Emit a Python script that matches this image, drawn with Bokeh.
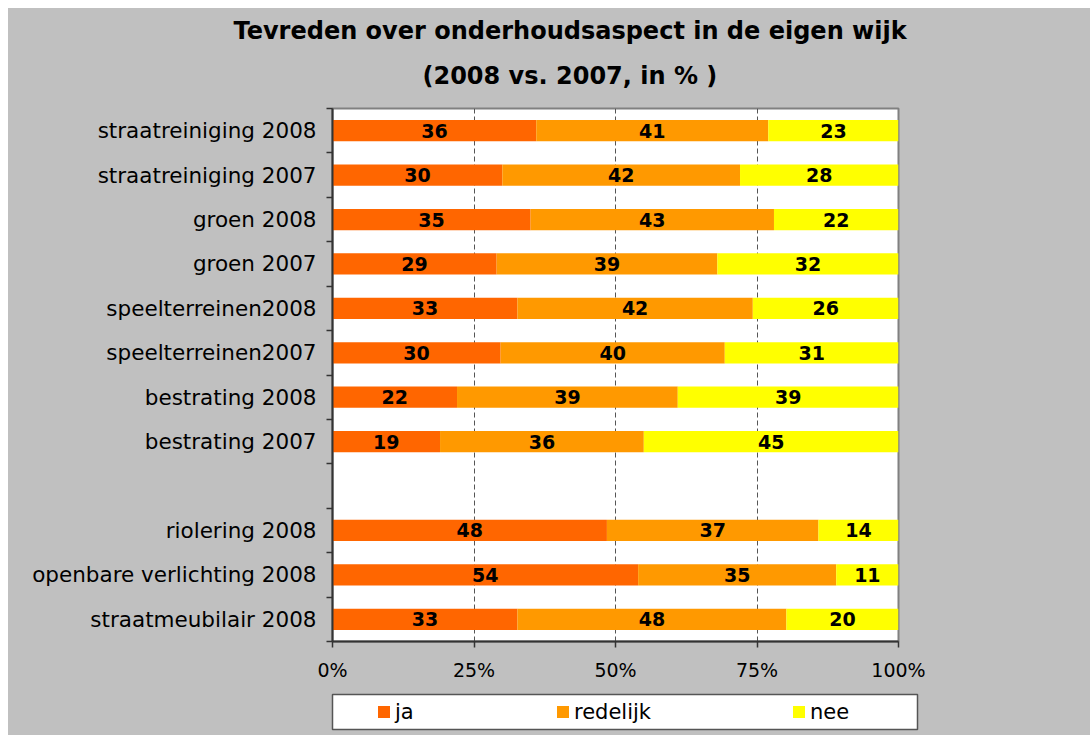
import numpy as np
from bokeh.plotting import figure
from bokeh.models import (ColumnDataSource, Range1d, FixedTicker, PrintfTickFormatter,
                          Legend, LegendItem, Title, Spacer)
from bokeh.layouts import column, row
from bokeh.core.properties import value
from bokeh.embed import file_html
from bokeh.resources import INLINE

# ---------------- data ----------------
categories = ["straatreiniging 2008", "straatreiniging 2007", "groen 2008", "groen 2007",
              "speelterreinen2008", "speelterreinen2007", "bestrating 2008", "bestrating 2007",
              "riolering 2008", "openbare verlichting 2008", "straatmeubilair 2008"]
ja = [36, 30, 35, 29, 33, 30, 22, 19, 48, 54, 33]
redelijk = [41, 42, 43, 39, 42, 40, 39, 36, 37, 35, 48]
nee = [23, 28, 22, 32, 26, 31, 39, 45, 14, 11, 20]
series = ["ja", "redelijk", "nee"]
colors = ["#FF6600", "#FF9900", "#FFFF00"]
x_ticks = [0, 25, 50, 75, 100]
title_lines = ["Tevreden over onderhoudsaspect in de eigen wijk", "(2008 vs. 2007, in % )"]

FONT = "DejaVu Sans"
BG = "#C0C0C0"

# ---------------- layout helpers ----------------
gap_after = 8                      # empty row after the first 8 categories
rows = np.array([i + (1 if i >= gap_after else 0) for i in range(len(categories))])
n_rows = len(categories) + 1
yc = n_rows - 0.5 - rows
boundaries = list(range(n_rows + 1))

vals = np.array([ja, redelijk, nee], dtype=float)
tot = vals.sum(axis=0)
pct = vals / tot * 100.0
right = np.cumsum(pct, axis=0)
left = right - pct

# ---------------- main chart ----------------
p = figure(title=None, frame_width=566, frame_height=533,
           min_border_left=324, min_border_right=192, min_border_top=100, min_border_bottom=48,
           x_range=Range1d(0, 100), y_range=Range1d(0, n_rows),
           toolbar_location=None, output_backend="svg")
p.background_fill_color = "white"
p.border_fill_color = BG
p.outline_line_color = "#808080"
p.outline_line_width = 2

sources = []
for k, name in enumerate(series):
    src = ColumnDataSource(dict(y=yc, left=left[k], right=right[k],
                                mid=(left[k] + right[k]) / 2,
                                label=[str(int(v)) for v in vals[k]]))
    sources.append(src)
    p.hbar(y="y", left="left", right="right", height=0.48, source=src,
           fill_color=colors[k], line_color=None)
    p.text(x="mid", y="y", text="label", source=src, text_align="center",
           text_baseline="middle", text_font=value(FONT), text_font_style="bold",
           text_font_size="19px", text_color="black")

xa = p.xaxis[0]
xa.ticker = FixedTicker(ticks=x_ticks)
xa.formatter = PrintfTickFormatter(format="%d%%")
xa.major_tick_out = 6
xa.major_tick_in = 0
xa.minor_tick_out = 0
xa.minor_tick_in = 0
xa.axis_line_width = 2
xa.axis_line_color = "#333333"
xa.major_tick_line_color = "#333333"
xa.major_tick_line_width = 1.5
xa.major_label_standoff = 11
xa.major_label_text_font = FONT
xa.major_label_text_font_size = "19px"
xa.major_label_text_color = "black"

ya = p.yaxis[0]
ya.ticker = FixedTicker(ticks=list(yc), minor_ticks=boundaries)
ya.major_label_overrides = {float(y): c for y, c in zip(yc, categories)}
ya.major_tick_out = 0
ya.major_tick_in = 0
ya.minor_tick_out = 6
ya.minor_tick_in = 0
ya.minor_tick_line_color = "#333333"
ya.minor_tick_line_width = 1.5
ya.axis_line_width = 2
ya.axis_line_color = "#333333"
ya.major_label_standoff = 10
ya.major_label_text_font = FONT
ya.major_label_text_font_size = "21.5px"
ya.major_label_text_color = "black"

p.xgrid.ticker = FixedTicker(ticks=x_ticks)
p.xgrid.grid_line_color = "#555555"
p.xgrid.grid_line_dash = "5 3"
p.xgrid.grid_line_width = 1
p.ygrid.visible = False

t2 = Title(text=title_lines[1], align="left", offset=90, vertical_align="top", standoff=34,
           text_font=FONT, text_font_size="24px", text_font_style="bold", text_color="black")
p.add_layout(t2, "above")
t1 = Title(text=title_lines[0], align="left", offset=-99, vertical_align="bottom", standoff=0,
           text_font=FONT, text_font_size="24px", text_font_style="bold", text_color="black")
p.add_layout(t1, "above")

# ---------------- legend strip (its frame is the legend box) ----------------
lg = figure(frame_width=585, frame_height=35,
            min_border_left=324, min_border_right=173, min_border_top=5, min_border_bottom=6,
            x_axis_type=None, y_axis_type=None,
            x_range=Range1d(0, 100), y_range=Range1d(0, n_rows),
            toolbar_location=None, output_backend="svg")
lg.background_fill_color = "white"
lg.border_fill_color = BG
lg.outline_line_color = "#555555"
lg.outline_line_width = 1.5
lg.grid.visible = False

# legend keys: same series, drawn with zero height so only the legend shows them
keys = [lg.hbar(y="y", left="left", right="right", height=0, source=sources[k],
                fill_color=colors[k], line_color=None) for k in range(len(series))]
leg = Legend(items=[LegendItem(label=value(s), renderers=[r]) for s, r in zip(series, keys)],
             location="left", orientation="horizontal",
             glyph_width=15, glyph_height=15, label_standoff=4, label_height=19,
             spacing=140, padding=0, margin=44,
             background_fill_alpha=0.0, border_line_alpha=0.0,
             label_text_font=FONT, label_text_font_size="21px", label_text_color="black")
lg.add_layout(leg)

inner = column(p, lg)
inner.styles = {"background-color": BG}
layout = column(Spacer(width=1090, height=8),
                row(Spacer(width=8, height=727), inner))
open("out.html", "w").write(file_html(layout, INLINE))
